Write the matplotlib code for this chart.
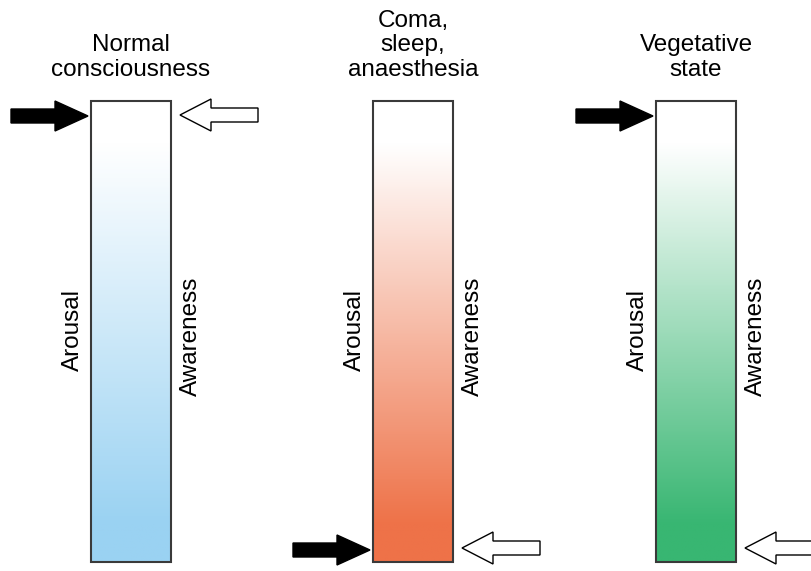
import numpy as np
import matplotlib.pyplot as plt
from matplotlib.colors import LinearSegmentedColormap
from matplotlib.patches import FancyArrow, Rectangle

# states and their levels (1 = high, 0 = low)
titles = ['Normal\nconsciousness', 'Coma,\nsleep,\nanaesthesia', 'Vegetative\nstate']
arousal = [1, 0, 1]
awareness = [1, 0, 0]
colors = ['#9ad2f2', '#ee7248', '#38b672']

plt.rcParams['font.family'] = ['Liberation Sans', 'DejaVu Sans']

fig = plt.figure(figsize=(8.12, 5.71), dpi=100)
ax = fig.add_axes([0, 0, 1, 1])
ax.set_xlim(0, 812)
ax.set_ylim(571, 0)
ax.axis('off')

bar_w = 80
bar_top, bar_bot = 101, 562
lefts = [91, 373, 656]

# white at the top, full colour at the bottom
grad = np.clip((np.linspace(0, 1, 300) - 0.09) / 0.83, 0, 1)[:, None]

for i in range(3):
    x0 = lefts[i]
    cmap = LinearSegmentedColormap.from_list('c%d' % i, ['#ffffff', colors[i]])
    ax.imshow(grad, cmap=cmap, vmin=0, vmax=1, aspect='auto',
              extent=(x0, x0 + bar_w, bar_bot, bar_top), zorder=1)
    ax.add_patch(Rectangle((x0, bar_top), bar_w, bar_bot - bar_top, fill=False,
                           edgecolor='#3a3a3a', linewidth=1.5, zorder=2))

    ax.text(x0 + bar_w / 2, 81, titles[i], ha='center', va='bottom', fontsize=17.5,
            linespacing=1.15)
    ax.text(x0 - 18, 330, 'Arousal', rotation=90, ha='center', va='center', fontsize=17.5)
    ax.text(x0 + bar_w + 20, 336, 'Awareness', rotation=90, ha='center', va='center', fontsize=17.5)

    # arousal: solid arrow from the left
    ya = bar_bot - 12 - arousal[i] * (bar_bot - bar_top - 27)
    ax.add_patch(FancyArrow(x0 - 80, ya, 77, 0, width=14, head_width=30, head_length=33,
                            length_includes_head=True, color='black', zorder=3))
    # awareness: hollow arrow from the right
    yw = bar_bot - 14 - awareness[i] * (bar_bot - bar_top - 28)
    ax.add_patch(FancyArrow(x0 + bar_w + 87, yw, -78, 0, width=14, head_width=32,
                            head_length=31, length_includes_head=True, facecolor='white',
                            edgecolor='black', linewidth=1.0, zorder=3))

fig.savefig('out.png', dpi=100)
